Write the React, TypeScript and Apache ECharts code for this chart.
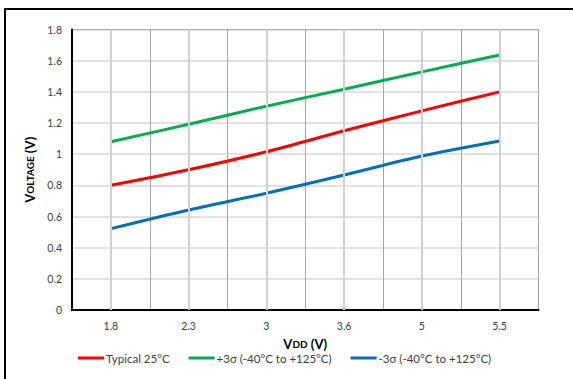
import React, { useEffect, useRef } from "react";
import * as echarts from "echarts";

const categories = ["1.8", "2.3", "3", "3.6", "5", "5.5"];
const typical = [0.8, 0.9, 1.015, 1.15, 1.278, 1.4];
const plus3s = [1.08, 1.192, 1.308, 1.417, 1.528, 1.636];
const minus3s = [0.522, 0.642, 0.749, 0.866, 0.988, 1.085];
const seriesNames = ["Typical 25°C", "+3σ (-40°C to +125°C)", "-3σ (-40°C to +125°C)"];
const seriesColors = ["#ff0000", "#00b050", "#0070c0"];

const FONT = "Lato, 'Open Sans', sans-serif";

export default function App() {
  const ref = useRef<HTMLDivElement>(null);
  useEffect(() => {
    if (!ref.current) return;
    const chart = echarts.init(ref.current, null, { renderer: "svg" });
    const values = [typical, plus3s, minus3s];
    chart.setOption({
      animation: false,
      textStyle: { fontFamily: FONT },
      graphic: [
        {
          type: "rect",
          shape: { x: 5, y: 9, width: 620, height: 420 },
          style: { fill: "none", stroke: "#000", lineWidth: 2 },
          silent: true,
        },
      ],
      grid: {
        left: 72,
        right: 34.5,
        top: 29.5,
        bottom: 69,
        show: true,
        borderColor: "#404040",
        borderWidth: 1,
      },
      legend: {
        bottom: 10,
        left: 73,
        icon: "rect",
        itemWidth: 26,
        itemHeight: 3,
        itemGap: 19,
        textStyle: { fontSize: 11.5, color: "#404040", fontFamily: FONT, padding: [0, 0, 0, -3] },
        data: seriesNames,
      },
      xAxis: {
        type: "category",
        data: categories,
        boundaryGap: true,
        name: "V{s|DD} (V)",
        nameLocation: "middle",
        nameGap: 27,
        nameTextStyle: {
          fontSize: 13,
          fontWeight: "bold",
          color: "#000",
          fontFamily: FONT,
          rich: { s: { fontSize: 10, fontWeight: "bold", color: "#000", fontFamily: FONT } },
        },
        axisLine: { lineStyle: { color: "#000", width: 2 } },
        axisTick: { show: false },
        axisLabel: { fontSize: 10.5, color: "#404040", margin: 10, fontFamily: FONT },
        splitLine: { show: true, lineStyle: { color: "#a6a6a6", width: 1 } },
      },
      yAxis: {
        type: "value",
        min: 0,
        max: 1.8,
        interval: 0.2,
        name: "V{s|OLTAGE} (V)",
        nameLocation: "middle",
        nameGap: 34,
        nameTextStyle: {
          fontSize: 13,
          fontWeight: "bold",
          color: "#000",
          fontFamily: FONT,
          rich: { s: { fontSize: 10, fontWeight: "bold", color: "#000", fontFamily: FONT } },
        },
        axisLine: { show: true, lineStyle: { color: "#000", width: 2 } },
        axisTick: { show: false },
        axisLabel: { fontSize: 10.5, color: "#404040", margin: 10, fontFamily: FONT },
        splitLine: { show: true, lineStyle: { color: "#d9d9d9", width: 1.5 } },
      },
      series: [
        {
          type: "line",
          name: "__grid",
          data: [],
          silent: true,
          z: 1,
          markLine: {
            silent: true,
            symbol: "none",
            label: { show: false },
            lineStyle: { color: "#d0d0d0", width: 2, type: "solid" },
            data: categories.map((c) => ({ xAxis: c })),
          },
        },
        ...seriesNames.map((name, i) => ({
          type: "line",
          name,
          data: values[i],
          smooth: 0.3,
          symbol: "none",
          z: 3,
          lineStyle: { color: seriesColors[i], width: 3 },
          itemStyle: { color: seriesColors[i] },
        })),
      ],
    });
    return () => chart.dispose();
  }, []);
  return (
    <div
      ref={ref}
      style={{ position: "absolute", left: 0, top: 0, width: 573, height: 379, background: "#fff" }}
    />
  );
}
